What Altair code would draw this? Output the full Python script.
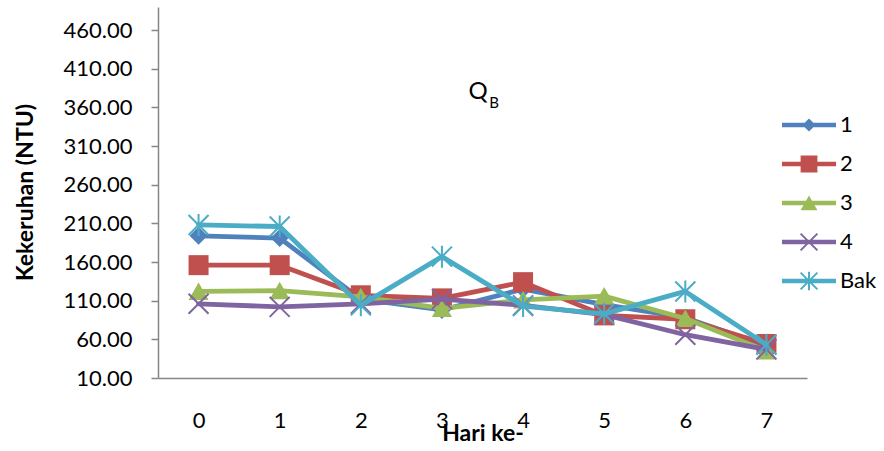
import altair as alt
import pandas as pd

# Turbidity (NTU) per day for each treatment, Q_B
days = [0, 1, 2, 3, 4, 5, 6, 7]
series_names = ["1", "2", "3", "4", "Bak"]
s1 = [194, 191, 112, 98, 125, 105, 88, 52]
s2 = [156, 156, 117, 113, 134, 91, 86, 54]
s3 = [122, 123, 115, 100, 111, 116, 87, 45]
s4 = [106, 102, 106, 112, 104, 92, 66, 47]
bak = [208, 206, 104, 167, 103, 93, 122, 53]
colors = ["#4F81BD", "#C0504D", "#9BBB59", "#8064A2", "#4BACC6"]
y_ticks = [10, 60, 110, 160, 210, 260, 310, 360, 410, 460]

rows = []
for name, vals in zip(series_names, [s1, s2, s3, s4, bak]):
    for d, v in zip(days, vals):
        rows.append({"hari": d, "nilai": v, "seri": name})
df = pd.DataFrame(rows)


def bar(x1, y1, x2, y2, t):
    """Thin filled rectangle from (x1,y1) to (x2,y2), thickness t (clockwise)."""
    dx, dy = x2 - x1, y2 - y1
    length = (dx * dx + dy * dy) ** 0.5
    nx, ny = -dy / length * t / 2, dx / length * t / 2
    pts = [(x1 - nx, y1 - ny), (x2 - nx, y2 - ny), (x2 + nx, y2 + ny), (x1 + nx, y1 + ny)]
    return "M" + "L".join(f"{x:.3f},{y:.3f}" for x, y in pts) + "Z"


def marker(kind, h, t):
    """Marker outline with half-extent h; t = stroke thickness for x / star."""
    if kind == "diamond":
        return f"M0,{-h}L{h},0L0,{h}L{-h},0Z"
    if kind == "square":
        return f"M{-h},{-h}L{h},{-h}L{h},{h}L{-h},{h}Z"
    if kind == "triangle":
        return f"M0,{-0.9 * h:.3f}L{h},{0.85 * h:.3f}L{-h},{0.85 * h:.3f}Z"
    xs = bar(-h, -h, h, h, t) + bar(-h, h, h, -h, t)
    if kind == "x":
        return xs
    return xs + bar(0, -1.1 * h, 0, 1.1 * h, t)


kinds = ["diamond", "square", "triangle", "x", "star"]
point_sizes = [324, 400, 400, 400, 400]
legend_half = [0.33, 0.42, 0.42, 0.42, 0.42]
# legend glyph: short line segment through the marker
legend_paths = [bar(-1.35, 0, 1.35, 0, 0.225) + marker(k, h, 0.1) for k, h in zip(kinds, legend_half)]

FONT = "Lato"
x_enc = alt.X(
    "hari:Q",
    scale=alt.Scale(domain=[-0.5, 7.5], nice=False, zero=False),
    axis=alt.Axis(
        values=days, format="d", ticks=False, tickSize=0, grid=False,
        labelPadding=42, labelBaseline="middle", labelFont=FONT, labelFontSize=22,
        labelColor="#000000", title="Hari ke-", titleFont=FONT, titleFontSize=23,
        titleFontWeight="bold", titleColor="#000000", titleX=324.5, titleY=55,
        titleBaseline="middle",
    ),
)
y_enc = alt.Y(
    "nilai:Q",
    scale=alt.Scale(domain=[10, 490], nice=False, zero=False),
    axis=alt.Axis(
        values=y_ticks, format=".2f", tickSize=7, grid=False, labelPadding=19,
        labelFont=FONT, labelFontSize=22, labelColor="#000000",
        title="Kekeruhan (NTU)", titleFont=FONT, titleFontSize=23,
        titleFontWeight="bold", titleColor="#000000", titleX=-133, titleY=185,
        titleBaseline="middle",
    ),
)

base = alt.Chart(df)
layers = []
for name, col, kind, size in zip(series_names, colors, kinds, point_sizes):
    sub = base.transform_filter(alt.datum.seri == name)
    layers.append(
        sub.mark_line(color=col, strokeWidth=4.8, strokeJoin="round", strokeCap="round")
        .encode(x=x_enc, y=y_enc)
    )
    layers.append(
        sub.mark_point(shape=marker(kind, 1, 0.2), size=size, filled=True, opacity=1, color=col)
        .encode(x=x_enc, y=y_enc)
    )

legend_props = dict(
    orient="none", legendX=631, legendY=98, title=None, padding=0,
    labelFont=FONT, labelFontSize=22, labelColor="#000000",
    symbolSize=1600, rowPadding=8, labelOffset=11, symbolStrokeWidth=0,
)
legend_layer = (
    base.transform_filter("datum.hari < 0")
    .mark_point(filled=True, opacity=1, size=1600)
    .encode(
        x=x_enc,
        y=y_enc,
        color=alt.Color(
            "seri:N",
            scale=alt.Scale(domain=series_names, range=colors),
            legend=alt.Legend(**legend_props),
        ),
        shape=alt.Shape(
            "seri:N",
            scale=alt.Scale(domain=series_names, range=legend_paths),
            legend=alt.Legend(**legend_props),
        ),
    )
)
layers.append(legend_layer)

# chart heading "Q" with subscript "B"
title_q = alt.Chart(pd.DataFrame({"t": ["Q"]})).mark_text(
    font=FONT, fontSize=24, color="#000000", align="center", baseline="middle"
).encode(text="t:N", x=alt.value(320), y=alt.value(85))
title_b = alt.Chart(pd.DataFrame({"t": ["B"]})).mark_text(
    font=FONT, fontSize=15, color="#000000", align="center", baseline="middle"
).encode(text="t:N", x=alt.value(336), y=alt.value(96))
layers += [title_q, title_b]

chart = (
    alt.layer(*layers)
    .properties(
        width=649, height=371, autosize="none",
        padding={"left": 158, "top": 7, "right": 77, "bottom": 73},
        background="#FFFFFF",
    )
    .configure_view(stroke=None)
    .configure_axis(domainColor="#868686", domainWidth=1.5, tickColor="#868686", tickWidth=1.5)
)

chart.save("out.html", embed_options={"renderer": "svg", "actions": False})
